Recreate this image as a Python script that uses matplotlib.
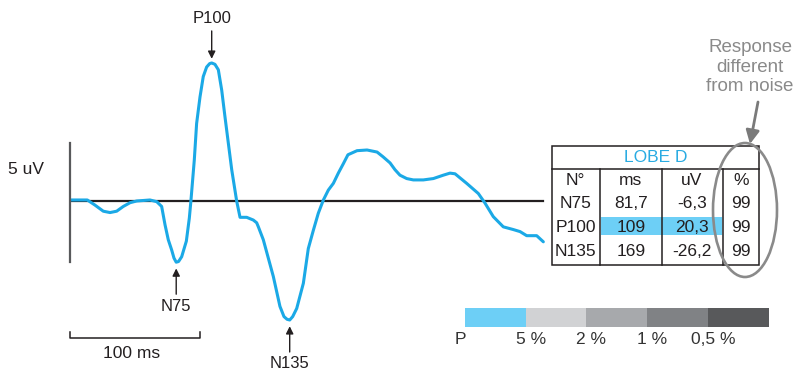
import matplotlib.pyplot as plt
from matplotlib.patches import Ellipse, Rectangle

plt.rcParams['font.family'] = ['Liberation Sans', 'DejaVu Sans']

# evoked response, time in ms, amplitude in uV
t_ms = [0, 7.7, 13.3, 19.2, 25.6, 30.8, 35.9, 41, 46.2, 51.3, 61.5, 66.7,
        70.5, 73.1, 75.6, 78.2, 80.0, 81.7, 83.5, 85.9, 89.5, 91.8, 93.0,
        95.6, 97.4, 100, 102.5, 105.1, 107.4, 109, 111.5, 114.1, 116.7, 119.2,
        121.8, 124.4, 128.2, 130.8, 135.9, 141, 143.6, 144.9, 148.7, 156.4,
        161.5, 164.6, 167.0, 169, 171.3, 174.4, 179.5, 183.3, 187.2, 191,
        194.9, 198.7, 202.6, 206.4, 210.3, 213.8, 220.8, 228.5, 236.2, 240.8,
        246.2, 250, 253.8, 259, 264.1, 271.8, 279.5, 287.2, 292.3, 296.2,
        305.1, 314.1, 319.2, 325.6, 333.3, 341, 346.2, 351.3, 359, 364.1]
amp_uv = [0.15, 0.15, 0.15, -0.6, -1.5, -1.7, -1.5, -0.8, -0.25, 0, 0.15, -0.1,
          -0.8, -3.5, -5.7, -7.2, -8.4, -9.0, -8.9, -8.2, -5.9, -2.5, 0,
          6.0, 11.4, 15.3, 18.3, 19.7, 20.2, 20.3, 20.1, 19.3, 16.3, 12.4,
          8.5, 4.6, 0, -2.4, -2.4, -2.8, -3.2, -3.8, -5.7, -11.1,
          -15.5, -17.0, -17.4, -17.5, -17.0, -15.8, -12.1, -7.0, -4.3, -1.8,
          0.15, 1.6, 2.6, 4.1, 5.5, 6.8, 7.4, 7.5, 7.2, 6.5,
          5.6, 4.6, 3.8, 3.3, 3.1, 3.1, 3.3, 3.8, 4.1, 4.0,
          2.6, 1.1, -0.3, -2.3, -3.8, -4.2, -4.5, -5.1, -5.1, -6.0]

peak_names = ['N75', 'P100', 'N135']
peak_ms = [81.7, 109, 169]
peak_uv_table = ['-6,3', '20,3', '-26,2']
peak_ms_table = ['81,7', '109', '169']
peak_pct = ['99', '99', '99']

p_labels = ['5 %', '2 %', '1 %', '0,5 %']
p_colors = ['#6dcff6', '#d1d2d4', '#a7a9ac', '#808285', '#58595b']

W, H = 795, 372
PX_MS = 1.3
PX_UV = 6.8
WAVE = '#1ba9e6'
INK = '#231f20'


def rect(x0, y0, x1, y1):
    return [x0 / W, 1 - y1 / H, (x1 - x0) / W, (y1 - y0) / H]


fig = plt.figure(figsize=(W / 100, H / 100), dpi=100)

# waveform panel
ax = fig.add_axes(rect(70, 40, 545, 340))
ax.set_xlim(0, 475 / PX_MS)
ax.set_ylim(-139 / PX_UV, 161 / PX_UV)
ax.axis('off')
ax.plot([0, 363.5], [0, 0], color=INK, lw=1.6, zorder=2)
ax.plot(t_ms, amp_uv, color=WAVE, lw=2.2, zorder=3,
        solid_joinstyle='round', solid_capstyle='round')

for name, t in zip(peak_names, peak_ms):
    v = amp_uv[t_ms.index(t)]
    up = v > 0
    s = 1 if up else -1
    ax.annotate('', xy=(t, v), xytext=(0, s * 32), textcoords='offset pixels',
                arrowprops=dict(arrowstyle='-|>', color=INK, lw=1.0,
                                shrinkA=0, shrinkB=3 if up else 4.5,
                                mutation_scale=11))
    ax.annotate(name, xy=(t, v), xytext=(0, s * 44), textcoords='offset pixels',
                ha='center', va='center', fontsize=12, color=INK)

# overlay in pixel coordinates
ov = fig.add_axes([0, 0, 1, 1])
ov.set_xlim(0, W)
ov.set_ylim(H, 0)
ov.axis('off')

# amplitude and time scale bars
ov.plot([70, 70], [143, 262], color='#58595b', lw=1.6)
ov.text(8, 170, '5 uV', fontsize=12.5, color=INK, va='center', ha='left')
ov.plot([70, 70, 200, 200], [332, 337.5, 337.5, 332], color=INK, lw=1.1)
ov.text(132, 353, '100 ms', fontsize=12.5, color=INK, ha='center', va='center')

# peak table
cols = [551.5, 600, 661.5, 722.5, 759]
top, head, bot = 145.5, 168.5, 264.5
row_y = [180.7, 203.3, 227.3, 251.7]
ov.add_patch(Rectangle((601, 217), 121, 18, color='#6dcff6', lw=0, zorder=1))
ov.add_patch(Rectangle((cols[0], top), cols[-1] - cols[0], bot - top,
                       fill=False, ec=INK, lw=1.1, zorder=3))
ov.plot([cols[0], cols[-1]], [head, head], color=INK, lw=1.1, zorder=3)
for x in cols[1:-1]:
    ov.plot([x, x], [head, bot], color=INK, lw=1.1, zorder=3)
ov.text((cols[0] + cols[-1]) / 2, 157, 'LOBE D', color='#29abe2', fontsize=12.5,
        ha='center', va='center')
rows = [['N°', 'ms', 'uV', '%']]
rows += [list(r) for r in zip(peak_names, peak_ms_table, peak_uv_table, peak_pct)]
for y, row in zip(row_y, rows):
    for i, cell in enumerate(row):
        ov.text((cols[i] + cols[i + 1]) / 2, y, cell, fontsize=12.5, color=INK,
                ha='center', va='center', zorder=4)

# significance callout
ov.add_patch(Ellipse((745, 210), 64, 134, fill=False, ec='#8a8a8a', lw=1.9, zorder=5))
ov.annotate('', xy=(750, 144), xytext=(758, 102),
            arrowprops=dict(arrowstyle='-|>', color='#7a7a7a', lw=2.0,
                            shrinkA=0, shrinkB=0, mutation_scale=20))
ov.text(750, 67, 'Response\ndifferent\nfrom noise', color='#8a8a8a', fontsize=13.5,
        ha='center', va='center', linespacing=1.2)

# p-value colour scale
cb = fig.add_axes(rect(465, 307.5, 768.5, 327))
cb.bar(range(len(p_colors)), [1] * len(p_colors), width=1, align='edge',
       color=p_colors, lw=0)
cb.set_xlim(0, len(p_colors))
cb.set_ylim(0, 1)
cb.axis('off')
ov.text(460, 339, 'P', fontsize=12.5, color='#333333', ha='center', va='center')
seg = (768.5 - 465) / len(p_colors)
for i, lab in enumerate(p_labels):
    ov.text(465 + seg * (i + 1) + 5, 339, lab, fontsize=12.5, color='#333333',
            ha='center', va='center')

fig.savefig('out.png', dpi=100)
